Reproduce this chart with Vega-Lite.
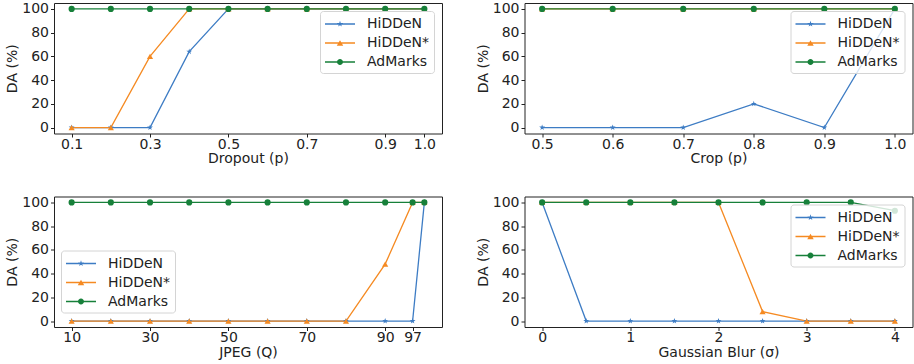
{
  "$schema": "https://vega.github.io/schema/vega-lite/v6.json",
  "background": "white",
  "padding": {"left": 5, "top": 1, "right": 2, "bottom": 2},
  "config": {
    "font": "DejaVu Sans",
    "view": {"stroke": "#222", "strokeWidth": 1},
    "axis": {"labelFont": "DejaVu Sans", "labelFontSize": 14, "titleFont": "DejaVu Sans", "titleFontSize": 14, "titleFontWeight": "normal", "labelColor": "#222", "titleColor": "#222", "tickColor": "#222", "domain": false, "grid": false, "tickSize": 3.5, "labelPadding": 2, "titlePadding": 2, "labelOverlap": false, "labelFlush": false},
    "axisX": {"labelPadding": 0, "titlePadding": 0.5},
    "legend": {"labelFont": "DejaVu Sans", "labelFontSize": 14, "labelColor": "#222", "fillColor": "rgba(255,255,255,0.8)", "strokeColor": "#d4d4d4", "cornerRadius": 3, "padding": 4, "rowPadding": 3, "symbolOffset": 7, "labelOffset": 18, "symbolSize": 324, "offset": 8, "symbolStrokeWidth": 0}
  },
  "datasets": {
    "d1": [
      {"x": 0.1, "series": "HiDDeN", "y": 0}, {"x": 0.2, "series": "HiDDeN", "y": 0}, {"x": 0.3, "series": "HiDDeN", "y": 0}, {"x": 0.4, "series": "HiDDeN", "y": 64}, {"x": 0.5, "series": "HiDDeN", "y": 100}, {"x": 0.6, "series": "HiDDeN", "y": 100}, {"x": 0.7, "series": "HiDDeN", "y": 100}, {"x": 0.8, "series": "HiDDeN", "y": 100}, {"x": 0.9, "series": "HiDDeN", "y": 100}, {"x": 1.0, "series": "HiDDeN", "y": 100},
      {"x": 0.1, "series": "HiDDeN*", "y": 0}, {"x": 0.2, "series": "HiDDeN*", "y": 0}, {"x": 0.3, "series": "HiDDeN*", "y": 60}, {"x": 0.4, "series": "HiDDeN*", "y": 100}, {"x": 0.5, "series": "HiDDeN*", "y": 100}, {"x": 0.6, "series": "HiDDeN*", "y": 100}, {"x": 0.7, "series": "HiDDeN*", "y": 100}, {"x": 0.8, "series": "HiDDeN*", "y": 100}, {"x": 0.9, "series": "HiDDeN*", "y": 100}, {"x": 1.0, "series": "HiDDeN*", "y": 100},
      {"x": 0.1, "series": "AdMarks", "y": 100}, {"x": 0.2, "series": "AdMarks", "y": 100}, {"x": 0.3, "series": "AdMarks", "y": 100}, {"x": 0.4, "series": "AdMarks", "y": 100}, {"x": 0.5, "series": "AdMarks", "y": 100}, {"x": 0.6, "series": "AdMarks", "y": 100}, {"x": 0.7, "series": "AdMarks", "y": 100}, {"x": 0.8, "series": "AdMarks", "y": 100}, {"x": 0.9, "series": "AdMarks", "y": 100}, {"x": 1.0, "series": "AdMarks", "y": 100}
    ],
    "d2": [
      {"x": 0.5, "series": "HiDDeN", "y": 0}, {"x": 0.6, "series": "HiDDeN", "y": 0}, {"x": 0.7, "series": "HiDDeN", "y": 0}, {"x": 0.8, "series": "HiDDeN", "y": 20}, {"x": 0.9, "series": "HiDDeN", "y": 0}, {"x": 1.0, "series": "HiDDeN", "y": 100},
      {"x": 0.5, "series": "HiDDeN*", "y": 100}, {"x": 0.6, "series": "HiDDeN*", "y": 100}, {"x": 0.7, "series": "HiDDeN*", "y": 100}, {"x": 0.8, "series": "HiDDeN*", "y": 100}, {"x": 0.9, "series": "HiDDeN*", "y": 100}, {"x": 1.0, "series": "HiDDeN*", "y": 100},
      {"x": 0.5, "series": "AdMarks", "y": 100}, {"x": 0.6, "series": "AdMarks", "y": 100}, {"x": 0.7, "series": "AdMarks", "y": 100}, {"x": 0.8, "series": "AdMarks", "y": 100}, {"x": 0.9, "series": "AdMarks", "y": 100}, {"x": 1.0, "series": "AdMarks", "y": 100}
    ],
    "d3": [
      {"x": 10, "series": "HiDDeN", "y": 0}, {"x": 20, "series": "HiDDeN", "y": 0}, {"x": 30, "series": "HiDDeN", "y": 0}, {"x": 40, "series": "HiDDeN", "y": 0}, {"x": 50, "series": "HiDDeN", "y": 0}, {"x": 60, "series": "HiDDeN", "y": 0}, {"x": 70, "series": "HiDDeN", "y": 0}, {"x": 80, "series": "HiDDeN", "y": 0}, {"x": 90, "series": "HiDDeN", "y": 0}, {"x": 97, "series": "HiDDeN", "y": 0}, {"x": 100, "series": "HiDDeN", "y": 100},
      {"x": 10, "series": "HiDDeN*", "y": 0}, {"x": 20, "series": "HiDDeN*", "y": 0}, {"x": 30, "series": "HiDDeN*", "y": 0}, {"x": 40, "series": "HiDDeN*", "y": 0}, {"x": 50, "series": "HiDDeN*", "y": 0}, {"x": 60, "series": "HiDDeN*", "y": 0}, {"x": 70, "series": "HiDDeN*", "y": 0}, {"x": 80, "series": "HiDDeN*", "y": 0}, {"x": 90, "series": "HiDDeN*", "y": 48}, {"x": 97, "series": "HiDDeN*", "y": 100}, {"x": 100, "series": "HiDDeN*", "y": 100},
      {"x": 10, "series": "AdMarks", "y": 100}, {"x": 20, "series": "AdMarks", "y": 100}, {"x": 30, "series": "AdMarks", "y": 100}, {"x": 40, "series": "AdMarks", "y": 100}, {"x": 50, "series": "AdMarks", "y": 100}, {"x": 60, "series": "AdMarks", "y": 100}, {"x": 70, "series": "AdMarks", "y": 100}, {"x": 80, "series": "AdMarks", "y": 100}, {"x": 90, "series": "AdMarks", "y": 100}, {"x": 97, "series": "AdMarks", "y": 100}, {"x": 100, "series": "AdMarks", "y": 100}
    ],
    "d4": [
      {"x": 0, "series": "HiDDeN", "y": 100}, {"x": 0.5, "series": "HiDDeN", "y": 0}, {"x": 1, "series": "HiDDeN", "y": 0}, {"x": 1.5, "series": "HiDDeN", "y": 0}, {"x": 2, "series": "HiDDeN", "y": 0}, {"x": 2.5, "series": "HiDDeN", "y": 0}, {"x": 3, "series": "HiDDeN", "y": 0}, {"x": 3.5, "series": "HiDDeN", "y": 0}, {"x": 4, "series": "HiDDeN", "y": 0},
      {"x": 0, "series": "HiDDeN*", "y": 100}, {"x": 0.5, "series": "HiDDeN*", "y": 100}, {"x": 1, "series": "HiDDeN*", "y": 100}, {"x": 1.5, "series": "HiDDeN*", "y": 100}, {"x": 2, "series": "HiDDeN*", "y": 100}, {"x": 2.5, "series": "HiDDeN*", "y": 8}, {"x": 3, "series": "HiDDeN*", "y": 0}, {"x": 3.5, "series": "HiDDeN*", "y": 0}, {"x": 4, "series": "HiDDeN*", "y": 0},
      {"x": 0, "series": "AdMarks", "y": 100}, {"x": 0.5, "series": "AdMarks", "y": 100}, {"x": 1, "series": "AdMarks", "y": 100}, {"x": 1.5, "series": "AdMarks", "y": 100}, {"x": 2, "series": "AdMarks", "y": 100}, {"x": 2.5, "series": "AdMarks", "y": 100}, {"x": 3, "series": "AdMarks", "y": 100}, {"x": 3.5, "series": "AdMarks", "y": 100}, {"x": 4, "series": "AdMarks", "y": 93}
    ]
  },
  "columns": 2,
  "bounds": "flush",
  "spacing": {"row": 62.5, "column": 82.5},
  "resolve": {"scale": {"color": "independent", "shape": "independent"}, "legend": {"color": "independent", "shape": "independent"}},
  "concat": [
    {
      "width": 388, "height": 130.5,
      "data": {"name": "d1"},
      "resolve": {"scale": {"shape": "independent", "color": "independent"}},
      "encoding": {
        "x": {"field": "x", "type": "quantitative", "scale": {"domain": [0.055, 1.045], "nice": false, "zero": false}, "axis": {"values": [0.1, 0.3, 0.5, 0.7, 0.9, 1.0], "format": ".1f", "title": "Dropout (p)"}},
        "y": {"field": "y", "type": "quantitative", "scale": {"domain": [-5, 105], "nice": false}, "axis": {"values": [0, 20, 40, 60, 80, 100], "title": "DA (%)"}}
      },
      "layer": [
        {"mark": {"type": "line", "strokeWidth": 1.3}, "encoding": {"color": {"field": "series", "type": "nominal", "scale": {"domain": ["HiDDeN", "HiDDeN*", "AdMarks"], "range": ["#3d7cc4", "#f58a22", "#17803a"]}, "legend": null}}},
        {"mark": {"type": "point", "filled": true, "opacity": 1, "size": 38, "strokeWidth": 0}, "encoding": {"color": {"field": "series", "type": "nominal", "scale": {"domain": ["HiDDeN", "HiDDeN*", "AdMarks"], "range": ["#3d7cc4", "#f58a22", "#17803a"]}, "legend": null}, "shape": {"field": "series", "type": "nominal", "scale": {"domain": ["HiDDeN", "HiDDeN*", "AdMarks"], "range": ["M0,-1L0.2245,-0.309L0.951,-0.309L0.363,0.118L0.588,0.809L0,0.382L-0.588,0.809L-0.363,0.118L-0.951,-0.309L-0.2245,-0.309Z", "triangle-up", "circle"]}, "legend": null}}},
        {"transform": [{"filter": "false"}], "mark": {"type": "point", "filled": true, "opacity": 1}, "encoding": {"color": {"field": "series", "type": "nominal", "scale": {"domain": ["HiDDeN", "HiDDeN*", "AdMarks"], "range": ["#3d7cc4", "#f58a22", "#17803a"]}, "legend": {"title": null, "orient": "top-right"}}, "shape": {"field": "series", "type": "nominal", "scale": {"domain": ["HiDDeN", "HiDDeN*", "AdMarks"], "range": ["M-1.667,-0.08L1.667,-0.08L1.667,0.08L-1.667,0.08Z M0,-0.36L0.081,-0.111L0.342,-0.111L0.131,0.042L0.212,0.291L0,0.138L-0.212,0.291L-0.131,0.042L-0.342,-0.111L-0.081,-0.111Z", "M-1.667,-0.08L1.667,-0.08L1.667,0.08L-1.667,0.08Z M0,-0.31L0.36,0.31L-0.36,0.31Z", "M-1.667,-0.08L1.667,-0.08L1.667,0.08L-1.667,0.08Z M0.333,0A0.333,0.333,0,1,1,-0.333,0A0.333,0.333,0,1,1,0.333,0Z"]}, "legend": {"title": null, "orient": "top-right"}}}}
      ]
    },
    {
      "width": 388, "height": 130.5,
      "data": {"name": "d2"},
      "resolve": {"scale": {"shape": "independent", "color": "independent"}},
      "encoding": {
        "x": {"field": "x", "type": "quantitative", "scale": {"domain": [0.475, 1.025], "nice": false, "zero": false}, "axis": {"values": [0.5, 0.6, 0.7, 0.8, 0.9, 1.0], "format": ".1f", "title": "Crop (p)"}},
        "y": {"field": "y", "type": "quantitative", "scale": {"domain": [-5, 105], "nice": false}, "axis": {"values": [0, 20, 40, 60, 80, 100], "title": "DA (%)"}}
      },
      "layer": [
        {"mark": {"type": "line", "strokeWidth": 1.3}, "encoding": {"color": {"field": "series", "type": "nominal", "scale": {"domain": ["HiDDeN", "HiDDeN*", "AdMarks"], "range": ["#3d7cc4", "#f58a22", "#17803a"]}, "legend": null}}},
        {"mark": {"type": "point", "filled": true, "opacity": 1, "size": 38, "strokeWidth": 0}, "encoding": {"color": {"field": "series", "type": "nominal", "scale": {"domain": ["HiDDeN", "HiDDeN*", "AdMarks"], "range": ["#3d7cc4", "#f58a22", "#17803a"]}, "legend": null}, "shape": {"field": "series", "type": "nominal", "scale": {"domain": ["HiDDeN", "HiDDeN*", "AdMarks"], "range": ["M0,-1L0.2245,-0.309L0.951,-0.309L0.363,0.118L0.588,0.809L0,0.382L-0.588,0.809L-0.363,0.118L-0.951,-0.309L-0.2245,-0.309Z", "triangle-up", "circle"]}, "legend": null}}},
        {"transform": [{"filter": "false"}], "mark": {"type": "point", "filled": true, "opacity": 1}, "encoding": {"color": {"field": "series", "type": "nominal", "scale": {"domain": ["HiDDeN", "HiDDeN*", "AdMarks"], "range": ["#3d7cc4", "#f58a22", "#17803a"]}, "legend": {"title": null, "orient": "top-right"}}, "shape": {"field": "series", "type": "nominal", "scale": {"domain": ["HiDDeN", "HiDDeN*", "AdMarks"], "range": ["M-1.667,-0.08L1.667,-0.08L1.667,0.08L-1.667,0.08Z M0,-0.36L0.081,-0.111L0.342,-0.111L0.131,0.042L0.212,0.291L0,0.138L-0.212,0.291L-0.131,0.042L-0.342,-0.111L-0.081,-0.111Z", "M-1.667,-0.08L1.667,-0.08L1.667,0.08L-1.667,0.08Z M0,-0.31L0.36,0.31L-0.36,0.31Z", "M-1.667,-0.08L1.667,-0.08L1.667,0.08L-1.667,0.08Z M0.333,0A0.333,0.333,0,1,1,-0.333,0A0.333,0.333,0,1,1,0.333,0Z"]}, "legend": {"title": null, "orient": "top-right"}}}}
      ]
    },
    {
      "width": 388, "height": 130.5,
      "data": {"name": "d3"},
      "resolve": {"scale": {"shape": "independent", "color": "independent"}},
      "encoding": {
        "x": {"field": "x", "type": "quantitative", "scale": {"domain": [5.5, 104.5], "nice": false, "zero": false}, "axis": {"values": [10, 30, 50, 70, 90, 97], "format": "d", "title": "JPEG (Q)"}},
        "y": {"field": "y", "type": "quantitative", "scale": {"domain": [-5, 105], "nice": false}, "axis": {"values": [0, 20, 40, 60, 80, 100], "title": "DA (%)"}}
      },
      "layer": [
        {"mark": {"type": "line", "strokeWidth": 1.3}, "encoding": {"color": {"field": "series", "type": "nominal", "scale": {"domain": ["HiDDeN", "HiDDeN*", "AdMarks"], "range": ["#3d7cc4", "#f58a22", "#17803a"]}, "legend": null}}},
        {"mark": {"type": "point", "filled": true, "opacity": 1, "size": 38, "strokeWidth": 0}, "encoding": {"color": {"field": "series", "type": "nominal", "scale": {"domain": ["HiDDeN", "HiDDeN*", "AdMarks"], "range": ["#3d7cc4", "#f58a22", "#17803a"]}, "legend": null}, "shape": {"field": "series", "type": "nominal", "scale": {"domain": ["HiDDeN", "HiDDeN*", "AdMarks"], "range": ["M0,-1L0.2245,-0.309L0.951,-0.309L0.363,0.118L0.588,0.809L0,0.382L-0.588,0.809L-0.363,0.118L-0.951,-0.309L-0.2245,-0.309Z", "triangle-up", "circle"]}, "legend": null}}},
        {"transform": [{"filter": "false"}], "mark": {"type": "point", "filled": true, "opacity": 1}, "encoding": {"color": {"field": "series", "type": "nominal", "scale": {"domain": ["HiDDeN", "HiDDeN*", "AdMarks"], "range": ["#3d7cc4", "#f58a22", "#17803a"]}, "legend": {"title": null, "orient": "none", "legendX": 7, "legendY": 54}}, "shape": {"field": "series", "type": "nominal", "scale": {"domain": ["HiDDeN", "HiDDeN*", "AdMarks"], "range": ["M-1.667,-0.08L1.667,-0.08L1.667,0.08L-1.667,0.08Z M0,-0.36L0.081,-0.111L0.342,-0.111L0.131,0.042L0.212,0.291L0,0.138L-0.212,0.291L-0.131,0.042L-0.342,-0.111L-0.081,-0.111Z", "M-1.667,-0.08L1.667,-0.08L1.667,0.08L-1.667,0.08Z M0,-0.31L0.36,0.31L-0.36,0.31Z", "M-1.667,-0.08L1.667,-0.08L1.667,0.08L-1.667,0.08Z M0.333,0A0.333,0.333,0,1,1,-0.333,0A0.333,0.333,0,1,1,0.333,0Z"]}, "legend": {"title": null, "orient": "none", "legendX": 7, "legendY": 54}}}}
      ]
    },
    {
      "width": 388, "height": 130.5,
      "data": {"name": "d4"},
      "resolve": {"scale": {"shape": "independent", "color": "independent"}},
      "encoding": {
        "x": {"field": "x", "type": "quantitative", "scale": {"domain": [-0.2, 4.2], "nice": false, "zero": false}, "axis": {"values": [0, 1, 2, 3, 4], "format": "d", "title": "Gaussian Blur (σ)"}},
        "y": {"field": "y", "type": "quantitative", "scale": {"domain": [-5, 105], "nice": false}, "axis": {"values": [0, 20, 40, 60, 80, 100], "title": "DA (%)"}}
      },
      "layer": [
        {"mark": {"type": "line", "strokeWidth": 1.3}, "encoding": {"color": {"field": "series", "type": "nominal", "scale": {"domain": ["HiDDeN", "HiDDeN*", "AdMarks"], "range": ["#3d7cc4", "#f58a22", "#17803a"]}, "legend": null}}},
        {"mark": {"type": "point", "filled": true, "opacity": 1, "size": 38, "strokeWidth": 0}, "encoding": {"color": {"field": "series", "type": "nominal", "scale": {"domain": ["HiDDeN", "HiDDeN*", "AdMarks"], "range": ["#3d7cc4", "#f58a22", "#17803a"]}, "legend": null}, "shape": {"field": "series", "type": "nominal", "scale": {"domain": ["HiDDeN", "HiDDeN*", "AdMarks"], "range": ["M0,-1L0.2245,-0.309L0.951,-0.309L0.363,0.118L0.588,0.809L0,0.382L-0.588,0.809L-0.363,0.118L-0.951,-0.309L-0.2245,-0.309Z", "triangle-up", "circle"]}, "legend": null}}},
        {"transform": [{"filter": "false"}], "mark": {"type": "point", "filled": true, "opacity": 1}, "encoding": {"color": {"field": "series", "type": "nominal", "scale": {"domain": ["HiDDeN", "HiDDeN*", "AdMarks"], "range": ["#3d7cc4", "#f58a22", "#17803a"]}, "legend": {"title": null, "orient": "top-right"}}, "shape": {"field": "series", "type": "nominal", "scale": {"domain": ["HiDDeN", "HiDDeN*", "AdMarks"], "range": ["M-1.667,-0.08L1.667,-0.08L1.667,0.08L-1.667,0.08Z M0,-0.36L0.081,-0.111L0.342,-0.111L0.131,0.042L0.212,0.291L0,0.138L-0.212,0.291L-0.131,0.042L-0.342,-0.111L-0.081,-0.111Z", "M-1.667,-0.08L1.667,-0.08L1.667,0.08L-1.667,0.08Z M0,-0.31L0.36,0.31L-0.36,0.31Z", "M-1.667,-0.08L1.667,-0.08L1.667,0.08L-1.667,0.08Z M0.333,0A0.333,0.333,0,1,1,-0.333,0A0.333,0.333,0,1,1,0.333,0Z"]}, "legend": {"title": null, "orient": "top-right"}}}}
      ]
    }
  ]
}
